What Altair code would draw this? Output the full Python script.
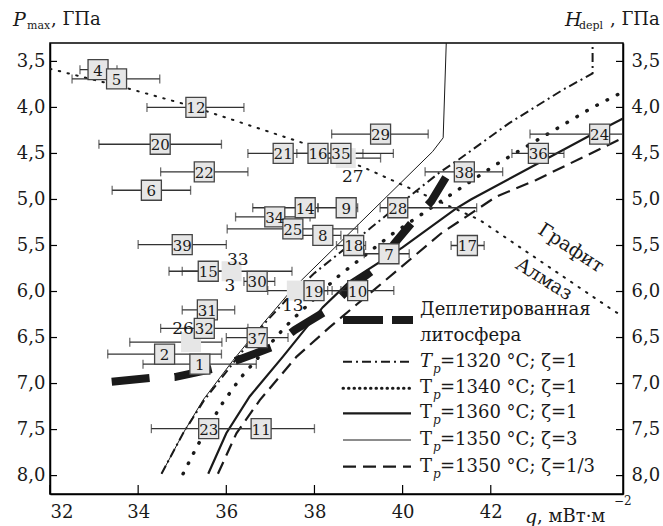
import altair as alt
import pandas as pd

# ---------------- data ----------------
# labelled points (box centre q [mW/m2], P [GPa]) and horizontal error bars
ids = ["4", "5", "12", "20", "22", "6", "39", "21", "16", "35", "29", "14", "9", "28",
       "34", "25", "8", "18", "7", "17", "38", "36", "24", "15", "30", "19", "10",
       "31", "32", "37", "2", "1", "23", "11"]
pt_q = [33.09, 33.51, 35.31, 34.50, 35.50, 34.30, 35.00, 37.29, 38.08, 38.60, 39.50, 37.79, 38.72, 39.89,
        37.10, 37.51, 38.19, 38.89, 39.69, 41.47, 41.40, 43.08, 44.47, 35.59, 36.70, 37.99, 38.98,
        35.57, 35.50, 36.70, 34.60, 35.40, 35.60, 36.79]
pt_P = [3.59, 3.69, 4.00, 4.40, 4.70, 4.90, 5.49, 4.50, 4.50, 4.50, 4.29, 5.09, 5.09, 5.09,
        5.19, 5.32, 5.39, 5.50, 5.59, 5.50, 4.70, 4.50, 4.29, 5.78, 5.89, 5.99, 5.99,
        6.20, 6.40, 6.50, 6.68, 6.79, 7.49, 7.49]
pt_lo = [32.68, 32.50, 34.20, 33.11, 34.51, 33.41, 34.00, 36.49, 37.60, 38.10, 38.39, 36.60, 38.08, 39.49,
         36.21, 36.02, 37.70, 38.50, 39.13, 41.10, 40.51, 42.48, 42.89, 34.70, 36.40, 37.50, 38.40,
         35.00, 34.51, 36.00, 33.31, 34.11, 34.30, 35.60]
pt_hi = [33.52, 34.49, 36.40, 35.89, 36.49, 35.19, 36.00, 38.08, 39.10, 39.79, 40.58, 38.08, 38.98, 41.68,
         37.90, 38.98, 38.60, 39.16, 40.15, 41.85, 42.27, 43.66, 45.50, 36.30, 37.10, 38.60, 39.80,
         36.19, 36.49, 37.40, 35.89, 36.68, 36.80, 38.00]

# partly hidden points (grey boxes without frame)
hid_q = [38.71, 36.12, 37.60, 35.20]
hid_P = [4.55, 5.78, 5.99, 6.55]
hid_lo = [38.30, 35.00, 36.94, 33.81]
hid_hi = [39.50, 37.49, 38.30, 35.90]
# labels of hidden points and their anchor values
hid_lab = ["27", "33", "3", "13", "26"]
hid_lab_q = [38.87, 36.26, 36.08, 37.51, 35.02]
hid_lab_P = [4.76, 5.66, 5.94, 6.16, 6.41]

# model curves
c1320_q = [34.53, 35.02, 35.50, 36.20, 36.90, 37.40, 38.00, 39.30, 40.38, 40.83, 41.29, 42.42, 43.63, 44.31, 44.31]
c1320_P = [7.98, 7.54, 7.18, 6.75, 6.33, 6.07, 5.80, 5.30, 4.88, 4.71, 4.56, 4.17, 3.81, 3.63, 3.30]
c1340_q = [35.02, 35.35, 35.89, 36.32, 37.27, 37.51, 38.50, 39.75, 41.21, 42.12, 44.31, 45.00]
c1340_P = [7.98, 7.67, 7.23, 6.94, 6.42, 6.30, 5.85, 5.38, 4.91, 4.62, 4.00, 3.83]
c1360_q = [35.59, 36.00, 36.53, 37.28, 38.19, 38.80, 40.00, 41.21, 41.55, 44.23, 45.00]
c1360_P = [7.98, 7.54, 7.14, 6.71, 6.17, 5.89, 5.52, 5.10, 5.00, 4.31, 4.12]
c3_q = [34.53, 35.02, 35.47, 36.15, 36.83, 37.40, 37.70, 40.68, 40.92, 40.99]
c3_P = [7.98, 7.54, 7.18, 6.75, 6.35, 6.03, 5.88, 4.48, 4.33, 3.30]
c13_q = [35.81, 36.23, 36.76, 37.59, 38.34, 40.87, 42.12, 43.02, 45.00]
c13_P = [7.98, 7.54, 7.18, 6.71, 6.39, 5.37, 4.97, 4.79, 4.33]
depl_q = [33.40, 34.27, 34.83, 35.70, 36.23, 37.06, 37.55, 38.27, 38.83, 39.40, 39.81, 40.30, 40.65, 40.98]
depl_P = [6.98, 6.94, 6.93, 6.84, 6.75, 6.60, 6.42, 6.21, 5.95, 5.74, 5.48, 5.20, 5.02, 4.76]
gd_q = [32.00, 33.74, 35.10, 37.89, 39.25, 41.74, 44.76, 45.00]
gd_P = [3.58, 3.79, 3.97, 4.41, 4.68, 5.22, 6.20, 6.27]

P_ticks = [3.5, 4.0, 4.5, 5.0, 5.5, 6.0, 6.5, 7.0, 7.5, 8.0]
q_ticks = [32, 34, 36, 38, 40, 42]

# ---------------- chart ----------------
W, H = 573, 451
FONT = "DejaVu Serif"
INK = "#1a1a1a"
xs = alt.Scale(domain=[32, 45], nice=False, zero=False)
ys = alt.Scale(domain=[3.3, 8.2], reverse=True, nice=False, zero=False)
X = lambda f: alt.X(f, scale=xs, axis=None)
Y = lambda f: alt.Y(f, scale=ys, axis=None)
one = pd.DataFrame({"a": [0]})
layers = []


def curve(qs, ps, **kw):
    df = pd.DataFrame({"q": qs, "P": ps, "i": list(range(len(qs)))})
    return alt.Chart(df).mark_line(clip=True, color=INK, **kw).encode(
        x=X("q:Q"), y=Y("P:Q"), order="i:Q")


def txt(s, x, y, size=18, style="normal", align="left", angle=0):
    return alt.Chart(one).mark_text(font=FONT, fontSize=size, fontStyle=style, align=align,
                                    baseline="middle", angle=angle, color=INK).encode(
        x=alt.value(x), y=alt.value(y), text=alt.value(s))


# axes with inward ticks (drawn first)
lab = "replace(format(datum.value, '.1f'), '.', ',')"
axkw = dict(ticks=False, grid=False, title=None, domainColor="black", domainWidth=1.5,
            labelFont=FONT, labelFontSize=18, labelColor=INK)
pt = pd.DataFrame({"P": P_ticks})
qt = pd.DataFrame({"q": q_ticks})
layers.append(alt.Chart(qt).mark_rule(color="black", strokeWidth=1.2).encode(
    x=alt.X("q:Q", scale=xs, axis=alt.Axis(orient="bottom", values=q_ticks, format="d",
                                           labelPadding=9, **axkw)),
    y=alt.value(H - 9), y2=alt.value(H)))
layers.append(alt.Chart(pt).mark_rule(color="black", strokeWidth=1.2).encode(
    y=alt.Y("P:Q", scale=ys, axis=alt.Axis(orient="left", values=P_ticks, labelExpr=lab,
                                           labelPadding=5, **axkw)),
    x=alt.value(0), x2=alt.value(7)))
layers.append(alt.Chart(pt).mark_rule(color="black", strokeWidth=1.2).encode(
    y=alt.Y("P:Q", scale=ys, axis=alt.Axis(orient="right", values=P_ticks, labelExpr=lab,
                                           labelPadding=8, **axkw)),
    x=alt.value(W - 7), x2=alt.value(W)))

# graphite–diamond line
layers.append(curve(gd_q, gd_P, strokeWidth=2, strokeDash=[1.5, 7.5], strokeCap="round"))
# model curves
layers.append(curve(c3_q, c3_P, strokeWidth=1))
layers.append(curve(c1320_q, c1320_P, strokeWidth=2, strokeDash=[9, 4, 2, 4]))
layers.append(curve(c1340_q, c1340_P, strokeWidth=3.5, strokeDash=[0.5, 11], strokeCap="round"))
layers.append(curve(c1360_q, c1360_P, strokeWidth=2.2))
layers.append(curve(c13_q, c13_P, strokeWidth=2.2, strokeDash=[13, 7]))
layers.append(curve(depl_q, depl_P, strokeWidth=8, strokeDash=[38, 25]))

# error bars
err = pd.DataFrame({"q": pt_q + hid_q, "P": pt_P + hid_P, "lo": pt_lo + hid_lo, "hi": pt_hi + hid_hi})
layers.append(alt.Chart(err).mark_rule(clip=True, color="#333", strokeWidth=1.3).encode(
    x=X("lo:Q"), x2="hi:Q", y=Y("P:Q")))
layers.append(alt.Chart(err).transform_fold(["lo", "hi"], as_=["k", "v"]).mark_tick(
    clip=True, orient="vertical", size=9, thickness=1.3, color="#333").encode(x=X("v:Q"), y=Y("P:Q")))

# hidden grey boxes and their labels
hid = pd.DataFrame({"q": hid_q, "P": hid_P})
layers.append(alt.Chart(hid).mark_square(size=400, fill="#e6e6e6", opacity=1, strokeWidth=0).encode(
    x=X("q:Q"), y=Y("P:Q")))
hl = pd.DataFrame({"q": hid_lab_q, "P": hid_lab_P, "t": hid_lab})
layers.append(alt.Chart(hl).mark_text(font=FONT, fontSize=17, color=INK, baseline="middle").encode(
    x=X("q:Q"), y=Y("P:Q"), text="t:N"))

# framed boxes with numbers
pts = pd.DataFrame({"q": pt_q, "P": pt_P, "t": ids})
layers.append(alt.Chart(pts).mark_square(size=400, fill="#e6e6e6", opacity=1, stroke="#444",
                                         strokeWidth=1.3).encode(x=X("q:Q"), y=Y("P:Q")))
layers.append(alt.Chart(pts).mark_text(font=FONT, fontSize=15, color=INK, baseline="middle", dy=1).encode(
    x=X("q:Q"), y=Y("P:Q"), text="t:N"))

# curve labels
layers.append(txt("Графит", 521, 205, size=19, align="center", angle=33))
layers.append(txt("Алмаз", 494, 236, size=19, align="center", angle=32))

# legend
LX0, LX1, TX = 293, 361, 370
layers.append(alt.Chart(one).mark_rule(color=INK, strokeWidth=8, strokeDash=[40, 9]).encode(
    x=alt.value(LX0), x2=alt.value(LX0 + 70), y=alt.value(277)))
layers.append(txt("Деплетированная", TX, 267))
layers.append(txt("литосфера", TX, 293))
leg = [
    ("=1320 °C; ζ=1", dict(strokeWidth=2, strokeDash=[9, 4, 2, 4]), "italic"),
    ("=1340 °C; ζ=1", dict(strokeWidth=3, strokeDash=[0.5, 5], strokeCap="round"), "normal"),
    ("=1360 °C; ζ=1", dict(strokeWidth=2.2), "normal"),
    ("=1350 °C; ζ=3", dict(strokeWidth=1), "normal"),
    ("=1350 °C; ζ=1/3", dict(strokeWidth=2.2, strokeDash=[13, 7]), "normal"),
]
ly = [318.7, 345.3, 370.3, 397, 423.7]
for (s, kw, st), y in zip(leg, ly):
    layers.append(alt.Chart(one).mark_rule(color=INK, **kw).encode(
        x=alt.value(LX0), x2=alt.value(LX1), y=alt.value(y)))
    layers.append(txt("T", TX, y, style=st))
    layers.append(txt("p", TX + 13, y + 7, size=12, style="italic"))
    layers.append(txt(s, TX + 20, y))

# titles
layers.append(txt("P", -37, -23, size=19, style="italic"))
layers.append(txt("max", -23, -17, size=11))
layers.append(txt(", ГПа", 1, -23))
layers.append(txt("H", 515, -23, size=19, style="italic"))
layers.append(txt("depl", 529, -17, size=11))
layers.append(txt(", ГПа", 560, -23))
layers.append(txt("q", 475, 474, size=19, style="italic"))
layers.append(txt(", мВт·м", 487, 474))
layers.append(txt("−2", 564, 458, size=12))

chart = alt.layer(*layers).resolve_scale(x="independent", y="independent").properties(
    width=W, height=H,
    autosize=alt.AutoSizeParams(type="none"),
    padding={"left": 50, "top": 43, "right": 40, "bottom": 32},
    background="white",
).configure_view(stroke="black", strokeWidth=1.5)

chart.save("out.html", embed_options={"renderer": "svg", "actions": False})
